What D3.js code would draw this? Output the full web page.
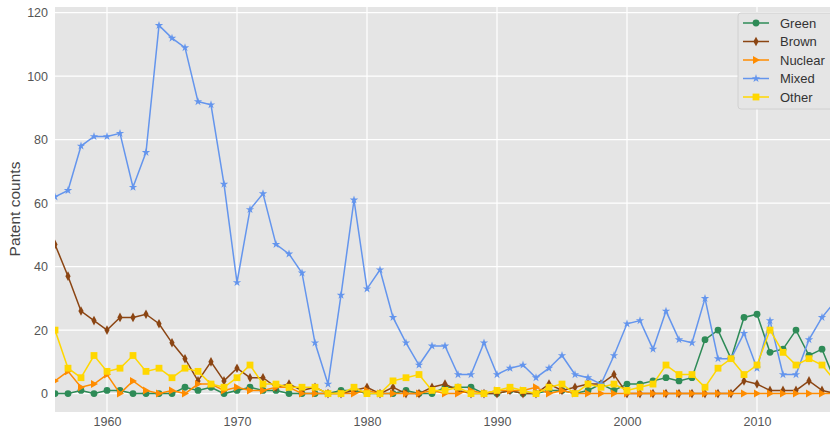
<!DOCTYPE html>
<html>
<head>
<meta charset="utf-8">
<script src="https://cdn.jsdelivr.net/npm/d3@7"></script>
<style>
  body { margin: 0; background: #fff; }
  text { font-family: "Liberation Sans", Arial, sans-serif; }
</style>
</head>
<body>
<div id="chart"></div>
<script>
const years = d3.range(1956, 2017);
const xTicks = [1960, 1970, 1980, 1990, 2000, 2010];
const yTicks = [0, 20, 40, 60, 80, 100, 120];

const green = [0,0,1,0,1,1,0,0,0,0, 2,1,2,0,1,2,1,1,0,0, 0,0,1,1,0,0,0,1,0,0,
  2,2,2,0,0,1,0,0,1,1, 0,1,3,1,3,3,4,5,4,5, 17,20,11,24,25,13,14,20,12,14, 4];
const brown = [47,37,26,23,20,24,24,25,22,16, 11,4,10,4,8,5,5,2,3,1, 2,0,0,1,2,0,2,0,0,2,
  3,1,0,0,0,1,0,0,3,1, 2,3,3,6,0,0,0,0,0,0, 0,0,0,4,3,1,1,1,4,1, 0];
const nuclear = [4,7,2,3,6,0,4,1,0,1, 0,3,3,1,2,1,1,2,2,0, 0,0,0,0,1,0,0,0,0,1,
  0,0,1,0,1,1,1,2,0,1, 0,0,0,0,0,0,0,0,0,0, 0,0,0,0,0,0,0,0,0,0, 0];
const mixed = [62,64,78,81,81,82,65,76,116,112, 109,92,91,66,35,58,63,47,44,38, 16,3,31,61,33,39,24,16,9,15,
  15,6,6,16,6,8,9,5,8,12, 6,5,3,12,22,23,14,26,17,16, 30,11,11,19,8,23,6,6,17,24, 29];
const other = [20,8,5,12,7,8,12,7,8,5, 8,7,3,2,5,9,3,3,2,2, 2,0,0,2,0,0,4,5,6,1,
  1,2,0,0,1,2,1,0,2,3, 0,3,2,3,1,2,3,9,6,6, 2,8,11,6,9,20,13,9,11,9, 4];

const seriesNames = ["Green", "Brown", "Nuclear", "Mixed", "Other"];
const seriesValues = [green, brown, nuclear, mixed, other];
const colors = ["#2e8b57", "#8b4513", "#ff8c00", "#6495ed", "#ffd700"];

const width = 830, height = 435;
const plotLeft = 55, plotTop = 7, plotBottom = 412;

const svg = d3.select("#chart").append("svg")
  .attr("width", width).attr("height", height);

const x = d3.scaleLinear().domain([1956, 2016]).range([plotLeft, 835]);
const y = d3.scaleLinear().domain([-5.8, 121.8]).range([plotBottom, plotTop]);

svg.append("rect")
  .attr("x", plotLeft).attr("y", plotTop)
  .attr("width", width - plotLeft).attr("height", plotBottom - plotTop)
  .attr("fill", "#e5e5e5");

svg.append("clipPath").attr("id", "clip")
  .append("rect")
  .attr("x", plotLeft).attr("y", plotTop)
  .attr("width", width - plotLeft).attr("height", plotBottom - plotTop);

// grid
const grid = svg.append("g");
grid.selectAll(".gx").data(xTicks).enter().append("line")
  .attr("x1", d => x(d)).attr("x2", d => x(d))
  .attr("y1", plotTop).attr("y2", plotBottom)
  .attr("stroke", "#fff").attr("stroke-width", 1.2);
grid.selectAll(".gy").data(yTicks).enter().append("line")
  .attr("x1", plotLeft).attr("x2", width)
  .attr("y1", d => y(d)).attr("y2", d => y(d))
  .attr("stroke", "#fff").attr("stroke-width", 1.2);

// axes
const xAxis = d3.axisBottom(x).tickValues(xTicks).tickFormat(d3.format("d")).tickSize(0).tickPadding(5);
svg.append("g").attr("transform", "translate(0," + plotBottom + ")").call(xAxis)
  .call(g => g.select(".domain").remove())
  .selectAll("text").attr("fill", "#555").style("font-size", "12.5px");

const yAxis = d3.axisLeft(y).tickValues(yTicks).tickSize(0).tickPadding(7);
svg.append("g").attr("transform", "translate(" + plotLeft + ",0)").call(yAxis)
  .call(g => g.select(".domain").remove())
  .selectAll("text").attr("fill", "#555").style("font-size", "12.5px");

svg.append("text")
  .attr("transform", "rotate(-90)")
  .attr("x", -209).attr("y", 20)
  .attr("text-anchor", "middle")
  .attr("fill", "#444")
  .style("font-size", "15.5px")
  .text("Patent counts");

// markers
function marker(sel, i) {
  const c = colors[i];
  if (i === 0) {
    sel.append("circle").attr("r", 3.4).attr("fill", c);
  } else if (i === 1) {
    sel.append("path").attr("d", "M0,-4.8L2.6,0L0,4.8L-2.6,0Z").attr("fill", c);
  } else if (i === 2) {
    sel.append("path").attr("d", "M4,0L-3,-4L-3,4Z").attr("fill", c);
  } else if (i === 3) {
    sel.append("path").attr("d", d3.symbol().type(d3.symbolStar).size(22)()).attr("fill", c);
  } else {
    sel.append("rect").attr("x", -3.4).attr("y", -3.4).attr("width", 6.8).attr("height", 6.8).attr("fill", c);
  }
}

const plot = svg.append("g").attr("clip-path", "url(#clip)");
const line = d3.line().x((d, j) => x(years[j])).y(d => y(d));

seriesValues.forEach((vals, i) => {
  const g = plot.append("g");
  g.append("path").datum(vals)
    .attr("d", line)
    .attr("fill", "none")
    .attr("stroke", colors[i])
    .attr("stroke-width", 1.5);
  g.selectAll(".m").data(vals).enter().append("g")
    .attr("transform", (d, j) => "translate(" + x(years[j]) + "," + y(d) + ")")
    .each(function () { marker(d3.select(this), i); });
});

// legend
const lg = svg.append("g").attr("transform", "translate(738,13)");
lg.append("rect")
  .attr("width", 96).attr("height", 96).attr("rx", 3)
  .attr("fill", "#e5e5e5").attr("stroke", "#cccccc").attr("stroke-width", 0.8);
seriesNames.forEach((name, i) => {
  const row = lg.append("g").attr("transform", "translate(0," + (10 + i * 18.5) + ")");
  row.append("line").attr("x1", 5).attr("x2", 31)
    .attr("stroke", colors[i]).attr("stroke-width", 1.5);
  const m = row.append("g").attr("transform", "translate(18,0)");
  marker(m, i);
  row.append("text").attr("x", 42).attr("y", 4.6)
    .attr("fill", "#333").style("font-size", "13px").text(name);
});
</script>
</body>
</html>
